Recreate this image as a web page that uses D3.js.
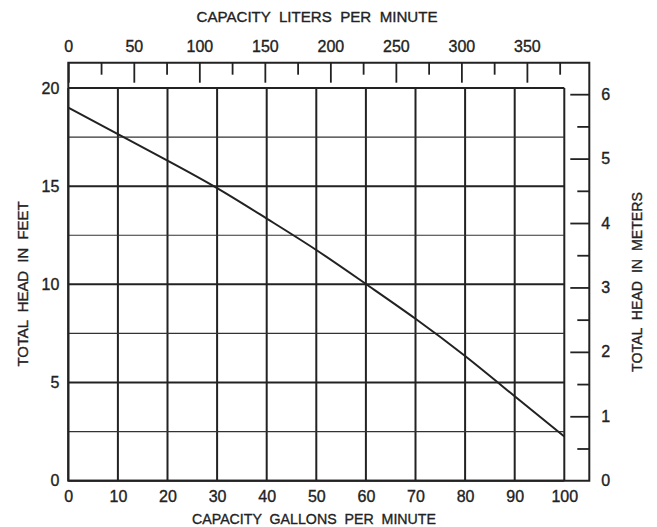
<!DOCTYPE html>
<html>
<head>
<meta charset="utf-8">
<script src="https://cdn.jsdelivr.net/npm/d3@7"></script>
<style>
  html, body { margin: 0; padding: 0; background: #fff; }
  svg { display: block; }
  text { font-family: "Liberation Sans", Arial, Helvetica, sans-serif; fill: #222; stroke: #222; stroke-width: 0.35px; }
  text.title { white-space: pre; }
</style>
</head>
<body>
<svg id="chart" width="657" height="527"></svg>
<script>
// ---- data ----
const capacityGpm = [0, 10, 20, 30, 40, 50, 60, 70, 80, 90, 100];
const headFeet    = [19.0, 17.65, 16.3, 14.9, 13.35, 11.75, 10.02, 8.25, 6.35, 4.3, 2.25];

const gpmTicks    = [0, 10, 20, 30, 40, 50, 60, 70, 80, 90, 100];
const feetTicks   = [0, 5, 10, 15, 20];
const feetMinor   = [2.5, 7.5, 12.5, 17.5];
const literMajor  = [0, 50, 100, 150, 200, 250, 300, 350];
const literMinor  = [25, 75, 125, 175, 225, 275, 325, 375];
const meterMajor  = [0, 1, 2, 3, 4, 5, 6];
const meterMinor  = [0.5, 1.5, 2.5, 3.5, 4.5, 5.5];

const titleTop    = "CAPACITY  LITERS  PER  MINUTE";
const titleBottom = "CAPACITY  GALLONS  PER  MINUTE";
const titleLeft   = "TOTAL  HEAD  IN  FEET";
const titleRight  = "TOTAL  HEAD  IN  METERS";

const L_PER_GAL = 3.78541;
const FT_PER_M  = 3.28084;

// ---- layout ----
const gx0 = 68.3, gx1 = 564.3;     // grid x-range (0..100 gpm)
const gy0 = 480.7, gy1 = 88;       // grid y-range (0..20 ft)
const frameTop = 62.7, frameRight = 589.3;
const ink = "#222";
const numSize = 16;

const svg = d3.select("#chart");

const x  = d3.scaleLinear().domain([0, 100]).range([gx0, gx1]);
const y  = d3.scaleLinear().domain([0, 20]).range([gy0, gy1]);
const xL = d3.scaleLinear().domain([0, 100 * L_PER_GAL]).range([gx0, gx1]);
const yM = d3.scaleLinear().domain([0, 20 / FT_PER_M]).range([gy0, gy1]);

// ---- grid ----
const grid = svg.append("g");
grid.selectAll("line.v").data(gpmTicks).join("line")
  .attr("x1", d => x(d)).attr("x2", d => x(d))
  .attr("y1", y(20)).attr("y2", y(0))
  .attr("stroke", ink).attr("stroke-width", 2);
grid.selectAll("line.h").data(feetTicks).join("line")
  .attr("x1", x(0)).attr("x2", x(100))
  .attr("y1", d => y(d)).attr("y2", d => y(d))
  .attr("stroke", ink).attr("stroke-width", 2);
grid.selectAll("line.hm").data(feetMinor).join("line")
  .attr("x1", x(0)).attr("x2", x(100))
  .attr("y1", d => y(d)).attr("y2", d => y(d))
  .attr("stroke", "#333").attr("stroke-width", 1.2);

// ---- outer frame ----
const frame = svg.append("g").attr("stroke", ink).attr("stroke-width", 2).attr("fill", "none");
frame.append("path")
  .attr("d", `M${gx0},${gy0} L${gx0},${frameTop} L${frameRight},${frameTop} L${frameRight},${gy0} Z`)
  .attr("stroke-linejoin", "miter");

// ---- top axis (liters per minute): ticks hang down ----
const topMajor = svg.append("g").attr("transform", `translate(0,${frameTop})`)
  .call(d3.axisBottom(xL).tickValues(literMajor).tickSize(20).tickFormat(""));
const topMinor = svg.append("g").attr("transform", `translate(0,${frameTop})`)
  .call(d3.axisBottom(xL).tickValues(literMinor).tickSize(12).tickFormat(""));
[topMajor, topMinor].forEach(g => {
  g.select(".domain").remove();
  g.selectAll(".tick line").attr("stroke", ink).attr("stroke-width", 1.8);
});
const topLabels = svg.append("g").attr("transform", `translate(0,${frameTop - 11})`)
  .call(d3.axisTop(xL).tickValues(literMajor).tickSize(0).tickPadding(0).tickFormat(d3.format("d")));
topLabels.select(".domain").remove();
topLabels.selectAll("text").attr("font-size", numSize).attr("fill", ink).attr("dy", "0");

// ---- right axis (meters): ticks point left ----
const rMajor = svg.append("g").attr("transform", `translate(${frameRight},0)`)
  .call(d3.axisLeft(yM).tickValues(meterMajor.filter(d => d > 0)).tickSize(19).tickFormat(""));
const rMinor = svg.append("g").attr("transform", `translate(${frameRight},0)`)
  .call(d3.axisLeft(yM).tickValues(meterMinor).tickSize(12).tickFormat(""));
[rMajor, rMinor].forEach(g => {
  g.select(".domain").remove();
  g.selectAll(".tick line").attr("stroke", ink).attr("stroke-width", 1.8);
});
const rLabels = svg.append("g").attr("transform", `translate(${frameRight + 12},0)`)
  .call(d3.axisRight(yM).tickValues(meterMajor).tickSize(0).tickPadding(0).tickFormat(d3.format("d")));
rLabels.select(".domain").remove();
rLabels.selectAll("text").attr("font-size", numSize).attr("fill", ink);

// ---- left axis (feet) ----
const lLabels = svg.append("g").attr("transform", `translate(${gx0 - 9},0)`)
  .call(d3.axisLeft(y).tickValues(feetTicks).tickSize(0).tickPadding(0).tickFormat(d3.format("d")));
lLabels.select(".domain").remove();
lLabels.selectAll("text").attr("font-size", numSize).attr("fill", ink);

// ---- bottom axis (gpm) ----
const bLabels = svg.append("g").attr("transform", `translate(0,${gy0 + 10})`)
  .call(d3.axisBottom(x).tickValues(gpmTicks).tickSize(0).tickPadding(0).tickFormat(d3.format("d")));
bLabels.select(".domain").remove();
bLabels.selectAll("text").attr("font-size", numSize).attr("fill", ink);

// ---- titles ----
svg.append("text").attr("class", "title").text(titleTop)
  .attr("x", 317).attr("y", 22).attr("text-anchor", "middle")
  .attr("font-size", 15).attr("textLength", 241).attr("lengthAdjust", "spacingAndGlyphs");
svg.append("text").attr("class", "title").text(titleBottom)
  .attr("x", 314).attr("y", 524).attr("text-anchor", "middle")
  .attr("font-size", 15).attr("textLength", 244).attr("lengthAdjust", "spacingAndGlyphs");
svg.append("text").attr("class", "title").text(titleLeft)
  .attr("transform", "translate(28,284) rotate(-90)").attr("text-anchor", "middle")
  .attr("font-size", 15).attr("textLength", 165).attr("lengthAdjust", "spacingAndGlyphs");
svg.append("text").attr("class", "title").text(titleRight)
  .attr("transform", "translate(642,282) rotate(-90)").attr("text-anchor", "middle")
  .attr("font-size", 15).attr("textLength", 180).attr("lengthAdjust", "spacingAndGlyphs");

// ---- curve ----
const pts = capacityGpm.map((g, i) => [g, headFeet[i]]);
svg.append("path").datum(pts)
  .attr("fill", "none").attr("stroke", ink).attr("stroke-width", 2)
  .attr("d", d3.line().x(d => x(d[0])).y(d => y(d[1])).curve(d3.curveNatural));
</script>
</body>
</html>
